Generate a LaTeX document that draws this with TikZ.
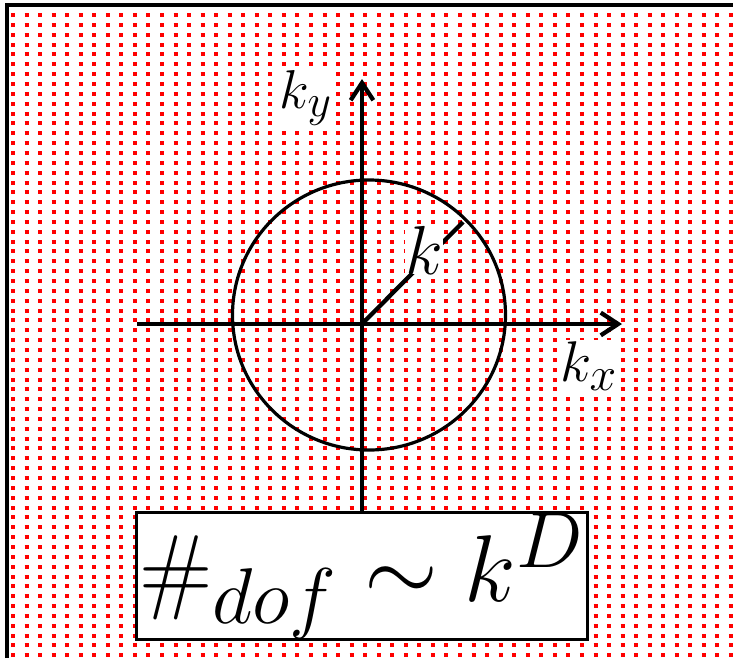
\documentclass[tikz,border=0pt]{standalone}
\usepackage{graphicx}
\usetikzlibrary{arrows.meta}

\begin{document}
\begin{tikzpicture}[x=0.75pt, y=-0.75pt,
  dotrow/.style={red, line width=3pt, dash pattern=on 3pt off 7.16pt},
  axis/.style={line width=3.2pt, -{Straight Barb[length=13pt,width=17pt]}},
  lbl/.style={fill=white, inner sep=1pt}]
\useasboundingbox (0,0) rectangle (733,658);
\foreach \r in {0,...,66}
  \draw[dotrow] (11,5.2+9.85*\r) -- (733,5.2+9.85*\r);
\draw[line width=2.4pt] (7,658) -- (7,5) -- (733,5);

\coordinate (O) at (362,324);
\coordinate (ytip) at (362,79);
\coordinate (xtail) at (137,324);
\coordinate (xtip) at (622,324);
\coordinate (rtip) at (463,222);

\draw[line width=2.4pt] (369,315) ellipse [x radius=136.5, y radius=135];
\node[draw, line width=2.25pt, fill=white, inner sep=0pt,
      minimum width=338pt, minimum height=89pt] (dof) at (362,576)
  {\Huge\scalebox{2.86}{$\#_{dof}\sim k^D$}};
\draw[axis] (dof) -- (ytip);
\draw[axis] (xtail) -- (xtip);
\draw[line width=3.2pt] (O) -- (rtip);

\node[lbl] (ky) at (306,98) {\Huge\scalebox{1.65}{$k_y$}};
\node[lbl] (kx) at (589,366) {\Huge\scalebox{1.73}{$k_x$}};
\node[lbl, inner sep=0pt] (k) at (424,250) {\Huge\scalebox{2.09}{$k$}};
\end{tikzpicture}
\end{document}
